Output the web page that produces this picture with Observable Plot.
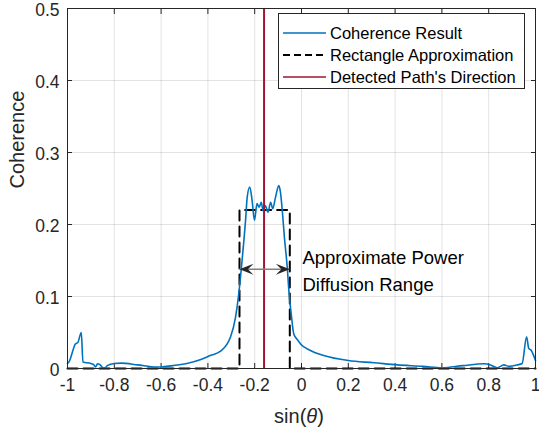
<!DOCTYPE html>
<html><head><meta charset="utf-8">
<script src="https://cdn.jsdelivr.net/npm/d3@7"></script>
<script src="https://cdn.jsdelivr.net/npm/@observablehq/plot@0.6"></script>
<style>
body{margin:0;background:#fff;font-family:"Liberation Sans",Arial,sans-serif;}
#wrap{position:relative;width:539px;height:433px;}
#legend{position:absolute;left:278px;top:13px;width:245px;height:74px;border:1px solid #262626;background:#fff;color:#000;font-size:16.5px;}
.row{position:absolute;left:0;height:20px;display:flex;align-items:center;}
.row svg{margin-left:4px;margin-right:4px;}
</style></head><body><div id="wrap"></div>
<script>
const coherenceX = [-1.0,-0.994,-0.966,-0.956,-0.941,-0.934,-0.90,-0.887,-0.88,-0.872,-0.86,-0.848,-0.84,-0.83,-0.80,-0.77,-0.70,-0.62,-0.55,-0.49,-0.43,-0.39,-0.346,-0.303,-0.282,-0.268,-0.254,-0.239,-0.232,-0.221,-0.211,-0.201,-0.19,-0.181,-0.172,-0.164,-0.154,-0.143,-0.132,-0.123,-0.111,-0.097,-0.09,-0.081,-0.073,-0.061,-0.053,-0.044,-0.033,-0.015,-0.004,0.038,0.095,0.2,0.31,0.41,0.52,0.6,0.69,0.78,0.808,0.836,0.865,0.886,0.922,0.943,0.962,0.971,0.982,1.0];
const coherenceY = [0.007,0.009,0.034,0.036,0.05,0.009,0.007,0.005,0.002,0.0065,0.005,0.001,0.001,0.004,0.007,0.0075,0.005,0.002,0.004,0.007,0.0125,0.018,0.024,0.044,0.071,0.104,0.15,0.206,0.238,0.252,0.233,0.206,0.229,0.224,0.231,0.219,0.226,0.217,0.231,0.222,0.238,0.254,0.245,0.215,0.182,0.141,0.104,0.076,0.048,0.039,0.034,0.025,0.018,0.011,0.008,0.005,0.003,0.001,0.004,0.0065,0.005,0.001,0.005,0.003,0.005,0.007,0.044,0.028,0.025,0.011];
const rectX = [-1, -0.265, -0.265, -0.05, -0.05, 1];
const rectY = [0, 0, 0.22, 0.22, 0, 0];
const pathDirection = [-0.16];
const arrowX = [-0.265, -0.05];
const arrowY = 0.138;
const annotationX = 0.004;
const annotationText = "Approximate Power\nDiffusion Range";
const xTicks = [-1,-0.8,-0.6,-0.4,-0.2,0,0.2,0.4,0.6,0.8,1];
const xTickLabels = ["-1","-0.8","-0.6","-0.4","-0.2","0","0.2","0.4","0.6","0.8","1"];
const yTicks = [0,0.1,0.2,0.3,0.4,0.5];
const yTickLabels = ["0","0.1","0.2","0.3","0.4","0.5"];
const legendLabels = ["Coherence Result","Rectangle Approximation","Detected Path's Direction"];

const blue = "#0072BD", red = "#A2142F", axisColor = "#262626";
const curve = coherenceX.map((x, i) => ({x, y: coherenceY[i]}));
const rect = rectX.map((x, i) => ({x, y: rectY[i]}));
const heads = [{x: arrowX[0], y: arrowY, r: 180}, {x: arrowX[1], y: arrowY, r: 0}];
const headSymbol = {draw(ctx, size) {
  const L = 14, W = 5.5;
  ctx.moveTo(0, 0); ctx.lineTo(-L, -W); ctx.lineTo(-0.6 * L, 0); ctx.lineTo(-L, W); ctx.closePath();
}};

const plot = Plot.plot({
  width: 539, height: 433,
  marginLeft: 67, marginRight: 4, marginTop: 8, marginBottom: 65,
  style: {fontFamily: "'Liberation Sans', Arial, sans-serif", fontSize: "17.5px", color: axisColor, background: "#fff"},
  x: {domain: [-1, 1]},
  y: {domain: [0, 0.5]},
  marks: [
    Plot.gridX(xTicks, {stroke: axisColor, strokeOpacity: 0.13}),
    Plot.gridY(yTicks, {stroke: axisColor, strokeOpacity: 0.13}),
    Plot.axisX({ticks: xTicks, anchor: "bottom", tickSize: -5, fill: "none", label: null, stroke: axisColor}),
    Plot.axisX({ticks: xTicks, anchor: "top", tickSize: -5, fill: "none", label: null, stroke: axisColor}),
    Plot.axisY({ticks: yTicks, anchor: "left", tickSize: -5, fill: "none", label: null, stroke: axisColor}),
    Plot.axisY({ticks: yTicks, anchor: "right", tickSize: -5, fill: "none", label: null, stroke: axisColor}),
    Plot.axisX({ticks: xTicks, anchor: "bottom", tickSize: 0, tickPadding: 10, label: null, fill: axisColor,
      tickFormat: d => xTickLabels[xTicks.indexOf(d)], fontSize: 17.5}),
    Plot.axisY({ticks: yTicks, anchor: "left", tickSize: 0, tickPadding: 8, label: null, fill: axisColor,
      tickFormat: d => yTickLabels[yTicks.indexOf(d)], fontSize: 17.5, dy: 1.5}),
    Plot.line(rect, {x: "x", y: "y", stroke: "#000", strokeWidth: 2, strokeDasharray: "10,6"}),
    Plot.line(curve, {x: "x", y: "y", stroke: blue, strokeWidth: 1.6, curve: "monotone-x"}),
    Plot.ruleX(pathDirection, {stroke: red, strokeWidth: 2}),
    Plot.ruleY([arrowY], {x1: arrowX[0], x2: arrowX[1], stroke: "#808080", strokeWidth: 1.5}),
    Plot.dot(heads, {x: "x", y: "y", rotate: "r", symbol: headSymbol, fill: "#262626", stroke: "none", r: 5}),
    Plot.text([annotationText], {x: annotationX, y: arrowY, text: d => d, textAnchor: "start", lineAnchor: "middle", lineHeight: 1.45, fontSize: 18.5, fill: "#000"}),
    Plot.text(["Coherence"], {frameAnchor: "left", dx: -50, rotate: -90, text: d => d, fontSize: 20, fill: axisColor}),
    Plot.frame({stroke: axisColor, strokeWidth: 1})
  ]
});

const wrap = document.getElementById("wrap");
wrap.appendChild(plot);
const svg = d3.select(plot);
const xl = svg.append("text").attr("x", 299).attr("y", 423).attr("text-anchor", "middle")
  .attr("font-size", 20).attr("fill", axisColor);
xl.append("tspan").text("sin(");
xl.append("tspan").attr("font-style", "italic").text("θ");
xl.append("tspan").text(")");

const legend = document.createElement("div");
legend.id = "legend";
const styles = [{stroke: blue, dash: null}, {stroke: "#000", dash: "7,4"}, {stroke: red, dash: null}];
const tops = [9, 31, 53];
legendLabels.forEach((lab, i) => {
  const row = document.createElement("div");
  row.className = "row";
  row.style.top = tops[i] + "px";
  row.innerHTML = `<svg width="43" height="20"><line x1="0" x2="43" y1="10" y2="10" stroke="${styles[i].stroke}" stroke-width="${i===1?2:1.6}" ${styles[i].dash ? `stroke-dasharray="${styles[i].dash}"` : ""}/></svg><span>${lab}</span>`;
  legend.appendChild(row);
});
wrap.appendChild(legend);
</script></body></html>
